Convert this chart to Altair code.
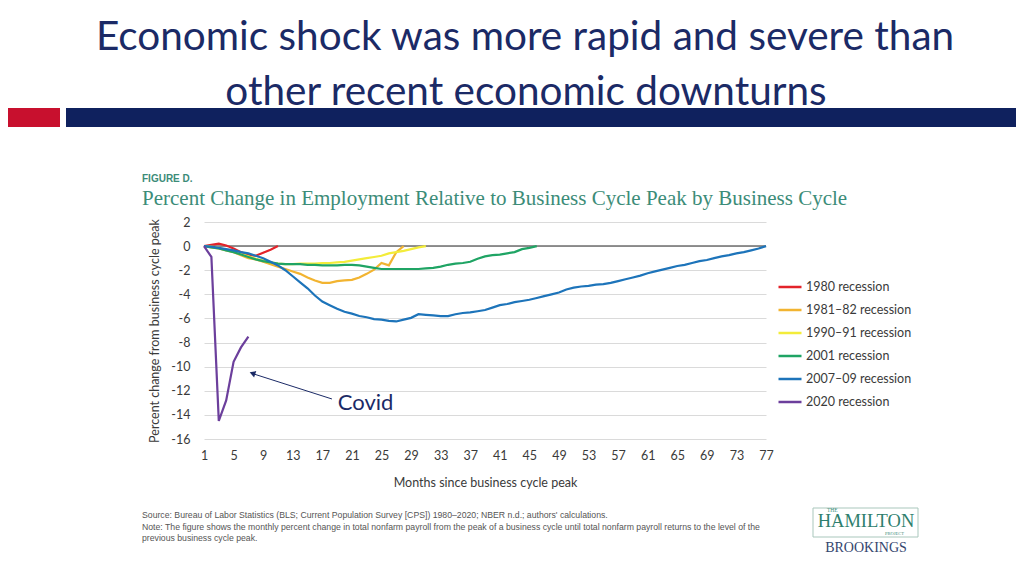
import altair as alt
import pandas as pd

# ---------------- data ----------------
series_names = ["1980 recession", "1981–82 recession", "1990–91 recession",
                "2001 recession", "2007–09 recession", "2020 recession"]
series_colors = ["#E3232A", "#F2B431", "#F3EC3A", "#1FA464", "#1D74BA", "#6C3F9C"]

r1980 = [0, 0.1, 0.2, 0.05, -0.2, -0.5, -0.75, -0.8, -0.55, -0.3, 0.0]
r1981 = [0, -0.1, -0.2, -0.35, -0.5, -0.75, -1.0, -1.1, -1.3, -1.5, -1.7, -1.9, -2.1,
         -2.3, -2.6, -2.85, -3.05, -3.05, -2.9, -2.85, -2.8, -2.6, -2.3, -1.95, -1.4,
         -1.6, -0.5, 0.0]
r1990 = [0, -0.05, -0.15, -0.3, -0.45, -0.65, -0.85, -1.05, -1.2, -1.35, -1.45, -1.5,
         -1.5, -1.45, -1.45, -1.45, -1.4, -1.4, -1.35, -1.3, -1.2, -1.1, -1.0, -0.9,
         -0.8, -0.6, -0.5, -0.4, -0.25, -0.1, 0.0]
r2001 = [0, -0.1, -0.2, -0.35, -0.5, -0.7, -0.9, -1.1, -1.25, -1.35, -1.45, -1.5, -1.5,
         -1.5, -1.55, -1.55, -1.6, -1.6, -1.6, -1.55, -1.55, -1.6, -1.7, -1.8, -1.9,
         -1.9, -1.9, -1.9, -1.9, -1.9, -1.85, -1.8, -1.7, -1.55, -1.45, -1.4, -1.3,
         -1.05, -0.85, -0.75, -0.7, -0.6, -0.5, -0.25, -0.15, 0.0]
r2007 = [0, -0.05, -0.15, -0.25, -0.35, -0.5, -0.6, -0.8, -1.0, -1.3, -1.6, -2.0, -2.5,
         -3.0, -3.5, -4.1, -4.6, -4.9, -5.2, -5.45, -5.6, -5.8, -5.9, -6.05, -6.1, -6.2,
         -6.25, -6.1, -5.95, -5.65, -5.7, -5.75, -5.8, -5.8, -5.65, -5.55, -5.5, -5.4,
         -5.3, -5.1, -4.9, -4.8, -4.65, -4.55, -4.45, -4.3, -4.15, -4.0, -3.85, -3.6,
         -3.45, -3.35, -3.3, -3.2, -3.15, -3.05, -2.9, -2.75, -2.6, -2.45, -2.25, -2.1,
         -1.95, -1.8, -1.65, -1.55, -1.4, -1.25, -1.15, -1.0, -0.85, -0.75, -0.6, -0.5,
         -0.35, -0.2, 0.0]
r2020 = [0, -0.9, -14.5, -12.8, -9.6, -8.4, -7.5]

x_ticks = list(range(1, 78, 4))
y_ticks = list(range(-16, 3, 2))

rows = []
for name, vals in zip(series_names, [r1980, r1981, r1990, r2001, r2007, r2020]):
    for i, v in enumerate(vals):
        rows.append({"series": name, "month": i + 1, "value": v})
df = pd.DataFrame(rows)

# annotation (data coordinates)
covid_label = pd.DataFrame({"month": [19.1], "value": [-13.6], "t": ["Covid"]})
arrow_line = pd.DataFrame({"month": [18.3], "value": [-12.68], "month2": [7.7], "value2": [-10.6]})
arrow_head = pd.DataFrame({"month": [7.55], "value": [-10.55]})

NAVY = "#1B2A66"
TEAL = "#3C8C78"
FONT = "Lato"

W, H = 562, 217

x_scale = alt.Scale(domain=[1, 77], nice=False, zero=False)
y_scale = alt.Scale(domain=[-16, 2], nice=False, zero=False)

X_TITLE = "Months since business cycle peak"
Y_TITLE = "Percent change from business cycle peak"

lines = alt.Chart(df).mark_line(strokeWidth=2.2).encode(
    x=alt.X("month:Q", scale=x_scale, title=X_TITLE,
            axis=alt.Axis(values=x_ticks, tickCount=len(x_ticks) + 5, title=X_TITLE,
                          grid=False, labelPadding=10, titlePadding=15)),
    y=alt.Y("value:Q", scale=y_scale, title=Y_TITLE,
            axis=alt.Axis(values=y_ticks, tickCount=len(y_ticks) + 5, title=Y_TITLE,
                          grid=True, gridColor="#dadada", gridWidth=1,
                          labelPadding=14, titlePadding=9,
                          labelExpr="'' + datum.value")),
    color=alt.Color("series:N",
                    scale=alt.Scale(domain=series_names, range=series_colors),
                    legend=alt.Legend(title=None, orient="none", legendX=573, legendY=52,
                                      symbolType="stroke", symbolStrokeWidth=2.5,
                                      symbolSize=529, labelFontSize=12.5, labelFont=FONT,
                                      labelColor="#3a3a3a", rowPadding=3, labelOffset=3,
                                      padding=0)),
    detail="series:N",
)

zero_rule = alt.Chart(pd.DataFrame({"value": [0]})).mark_rule(
    color="#6e6e6e", strokeWidth=1.5
).encode(y=alt.Y("value:Q", scale=y_scale, title=Y_TITLE))

covid_text = alt.Chart(covid_label).mark_text(
    align="left", baseline="alphabetic", font=FONT, fontSize=22, color=NAVY
).encode(x=alt.X("month:Q", scale=x_scale, title=X_TITLE),
         y=alt.Y("value:Q", scale=y_scale, title=Y_TITLE), text="t:N")

arrow = alt.Chart(arrow_line).mark_rule(color=NAVY, strokeWidth=1).encode(
    x=alt.X("month:Q", scale=x_scale, title=X_TITLE), x2="month2:Q",
    y=alt.Y("value:Q", scale=y_scale, title=Y_TITLE), y2="value2:Q")

head = alt.Chart(arrow_head).mark_point(
    shape="triangle-up", filled=True, size=45, angle=289, color=NAVY, opacity=1
).encode(x=alt.X("month:Q", scale=x_scale, title=X_TITLE),
         y=alt.Y("value:Q", scale=y_scale, title=Y_TITLE))


# --------------- page decorations (pixel offsets from plot origin) ---------------
def label(txt, x, y, size, color, font=FONT, weight="normal", align="left", **kw):
    return alt.Chart(pd.DataFrame({"t": [txt]})).mark_text(
        align=align, baseline="alphabetic", font=font, fontSize=size, color=color,
        fontWeight=weight, **kw
    ).encode(x=alt.value(x), y=alt.value(y), text="t:N")


def box(x1, x2, y1, y2, **kw):
    return alt.Chart(pd.DataFrame({"a": [0]})).mark_rect(**kw).encode(
        x=alt.value(x1), x2=alt.value(x2), y=alt.value(y1), y2=alt.value(y2))


NOTE = "#555555"
decor = [
    label("Economic shock was more rapid and severe than", 321, -172, 40.5, NAVY, align="center"),
    label("other recent economic downturns", 322, -117, 40.5, NAVY, align="center"),
    box(-196, -144, -114, -95, color="#C8102E"),
    box(-138, 812, -114, -95, color="#0F215E"),
    label("FIGURE D.", -62, -40, 10, TEAL, font="Liberation Sans", weight="bold"),
    label("Percent Change in Employment Relative to Business Cycle Peak by Business Cycle",
          -62, -17, 21, TEAL, font="Liberation Serif"),
    label("Source: Bureau of Labor Statistics (BLS; Current Population Survey [CPS]) 1980–2020; "
          "NBER n.d.; authors' calculations.", -62, 296, 8.7, NOTE, font="Liberation Sans"),
    label("Note: The figure shows the monthly percent change in total nonfarm payroll from the peak "
          "of a business cycle until total nonfarm payroll returns to the level of the",
          -62, 308, 8.7, NOTE, font="Liberation Sans"),
    label("previous business cycle peak.", -62, 319, 8.7, NOTE, font="Liberation Sans"),
    box(609, 714, 286, 315, filled=False, stroke="#A9C7BC", strokeWidth=1),
    label("THE", 623, 290, 5.5, TEAL, font="Liberation Serif"),
    label("HAMILTON", 662, 305, 18.5, "#2F7F6E", font="Liberation Serif", align="center"),
    label("PROJECT", 681, 313, 4.5, TEAL, font="Liberation Serif"),
    label("BROOKINGS", 662, 330, 14, "#34456E", font="Liberation Serif", align="center"),
]

chart = alt.layer(zero_rule, lines, arrow, head, covid_text, *decor).properties(
    width=W, height=H,
    autosize=alt.AutoSizeParams(type="none"),
    padding={"left": 196, "top": 214, "right": 250, "bottom": 129},
    background="white",
).configure_view(stroke=None).configure_axis(
    domain=False, ticks=False, labelFlush=False, labelOverlap=False, labelBound=False,
    labelFontSize=12.5, titleFontSize=12.5, titleFontWeight="normal",
    labelColor="#3a3a3a", titleColor="#3a3a3a", labelFont=FONT, titleFont=FONT,
)

chart.save("out.html", embed_options={"renderer": "svg", "actions": False})
